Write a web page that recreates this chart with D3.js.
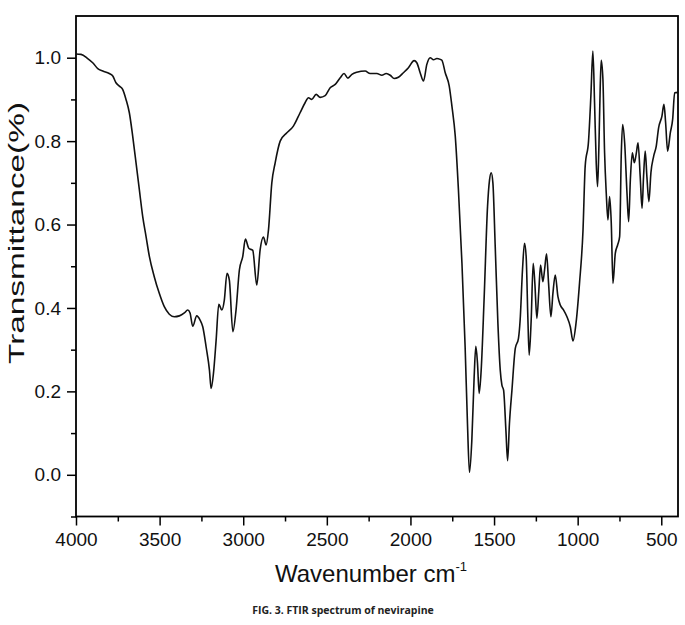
<!DOCTYPE html>
<html>
<head>
<meta charset="utf-8">
<script src="https://cdn.jsdelivr.net/npm/d3@7"></script>
<style>
  body { margin: 0; background: #fff; }
  svg { display: block; }
</style>
</head>
<body>
<div id="chart"></div>
<script>
// FTIR spectrum of nevirapine
var wavenumber = [4000,3970,3930,3900,3870,3840,3801,3780,3761,3741,3721,3701,3681,3661,3641,3621,3601,3581,3561,3532,
  3502,3472,3442,3412,3382,3352,3332,3318,3302,3278,3258,3242,3222,3202,3192,3178,3162,3146,3128,3113,
  3097,3083,3062,3043,3023,3003,2987,2967,2943,2919,2899,2879,2863,2849,2829,2809,2779,2739,2700,2660,
  2630,2610,2590,2564,2540,2510,2480,2450,2420,2397,2374,2350,2321,2271,2241,2201,2171,2145,2121,2097,
  2072,2042,2012,1978,1962,1942,1922,1902,1882,1862,1842,1822,1812,1792,1768,1752,1732,1713,1692,1673,
  1659,1647,1633,1619,1609,1599,1589,1577,1559,1539,1527,1517,1507,1493,1477,1463,1453,1443,1429,1419,
  1408,1393,1373,1354,1344,1330,1318,1308,1298,1290,1278,1266,1256,1244,1232,1222,1208,1198,1186,1174,
  1160,1148,1134,1118,1104,1084,1064,1044,1028,1010,989,968,955,935,921,909,899,889,881,873,
  865,859,849,839,829,819,809,799,789,775,761,749,739,731,719,705,695,685,673,661,
  649,639,626,615,606,596,586,574,562,546,530,516,496,484,474,462,446,432,420,400];

var transmittance = [1.009,1.008,0.998,0.988,0.974,0.968,0.962,0.956,0.940,0.932,0.924,0.900,0.868,0.812,0.748,0.683,0.619,0.571,0.523,0.475,
  0.435,0.403,0.385,0.379,0.381,0.388,0.395,0.388,0.356,0.381,0.371,0.355,0.307,0.251,0.207,0.243,0.323,0.409,0.395,0.419,
  0.483,0.467,0.343,0.395,0.491,0.523,0.565,0.543,0.538,0.455,0.539,0.570,0.551,0.587,0.700,0.748,0.800,0.820,0.836,0.868,
  0.892,0.904,0.900,0.912,0.905,0.909,0.928,0.936,0.952,0.962,0.951,0.960,0.965,0.968,0.962,0.962,0.958,0.962,0.958,0.950,
  0.953,0.964,0.976,0.993,0.988,0.964,0.944,0.984,1.000,0.995,0.998,0.996,0.994,0.964,0.932,0.884,0.812,0.683,0.507,0.307,
  0.123,0.006,0.082,0.235,0.308,0.267,0.195,0.251,0.427,0.643,0.707,0.724,0.700,0.547,0.363,0.251,0.215,0.203,0.106,0.034,
  0.123,0.203,0.303,0.327,0.371,0.491,0.555,0.523,0.379,0.287,0.371,0.507,0.459,0.375,0.443,0.503,0.463,0.491,0.530,0.459,
  0.379,0.435,0.479,0.427,0.407,0.395,0.379,0.355,0.321,0.363,0.459,0.587,0.740,0.800,0.908,1.016,0.892,0.748,0.691,0.788,
  0.932,0.994,0.948,0.772,0.675,0.611,0.667,0.603,0.459,0.531,0.551,0.571,0.772,0.840,0.796,0.675,0.607,0.707,0.772,0.748,
  0.772,0.796,0.715,0.639,0.715,0.776,0.715,0.655,0.724,0.763,0.788,0.832,0.860,0.888,0.844,0.776,0.820,0.852,0.916,0.917];

var xMajor = [4000,3500,3000,2500,2000,1500,1000,500];
var xMinor = [3750,3250,2750,2250,1750,1250,750];
var yMajor = [0.0,0.2,0.4,0.6,0.8,1.0];
var yMinor = [-0.1,0.1,0.3,0.5,0.7,0.9];

var W = 685, H = 625;
// plot frame (window.top is reserved, so prefix these)
var plotLeft = 76, plotRight = 678, plotTop = 16, plotBottom = 516.5;
var font = "'Liberation Sans', Arial, sans-serif";

var svg = d3.select("#chart").append("svg")
    .attr("width", W)
    .attr("height", H);

svg.append("rect").attr("width", W).attr("height", H).attr("fill", "#fff");

var xScale = d3.scaleLinear().domain([4000, 400]).range([plotLeft, plotRight]);
var yScale = d3.scaleLinear().domain([-0.1, 1.1]).range([plotBottom, plotTop]);

var data = wavenumber.map(function(w, i) { return {w: w, t: transmittance[i]}; });

// x axis, major + minor ticks
var xAxis = d3.axisBottom(xScale)
    .tickValues(xMajor)
    .tickSizeInner(9)
    .tickSizeOuter(0)
    .tickPadding(7)
    .tickFormat(d3.format("d"));

svg.append("g")
    .attr("transform", "translate(0," + plotBottom + ")")
    .call(xAxis);

svg.append("g")
    .attr("transform", "translate(0," + plotBottom + ")")
    .call(d3.axisBottom(xScale).tickValues(xMinor).tickSizeInner(5).tickSizeOuter(0).tickFormat(""));

// y axis
var yAxis = d3.axisLeft(yScale)
    .tickValues(yMajor)
    .tickSizeInner(9)
    .tickSizeOuter(0)
    .tickPadding(6)
    .tickFormat(d3.format(".1f"));

svg.append("g")
    .attr("transform", "translate(" + plotLeft + ",0)")
    .call(yAxis);

svg.append("g")
    .attr("transform", "translate(" + plotLeft + ",0)")
    .call(d3.axisLeft(yScale).tickValues(yMinor).tickSizeInner(5).tickSizeOuter(0).tickFormat(""));

svg.selectAll(".domain").remove();
svg.selectAll(".tick line").attr("stroke", "#000").attr("stroke-width", 1.5);
svg.selectAll(".tick text")
    .attr("fill", "#111")
    .style("font-family", font)
    .style("font-size", "19px");

// frame
svg.append("rect")
    .attr("x", plotLeft)
    .attr("y", plotTop)
    .attr("width", plotRight - plotLeft)
    .attr("height", plotBottom - plotTop)
    .attr("fill", "none")
    .attr("stroke", "#000")
    .attr("stroke-width", 1.8);

// spectrum
var line = d3.line()
    .x(function(d) { return xScale(d.w); })
    .y(function(d) { return yScale(d.t); })
    .curve(d3.curveMonotoneX);

svg.append("path")
    .datum(data)
    .attr("fill", "none")
    .attr("stroke", "#111")
    .attr("stroke-width", 1.6)
    .attr("stroke-linejoin", "round")
    .attr("d", line);

// axis titles
svg.append("text")
    .attr("transform", "translate(24,233)rotate(-90)")
    .attr("text-anchor", "middle")
    .attr("textLength", 262)
    .attr("lengthAdjust", "spacingAndGlyphs")
    .style("font-family", font)
    .style("font-size", "22px")
    .attr("fill", "#111")
    .text("Transmittance(%)");

var xt = svg.append("text")
    .attr("x", (plotLeft + plotRight) / 2 - 6)
    .attr("y", 582)
    .attr("text-anchor", "middle")
    .style("font-family", font)
    .style("font-size", "24px")
    .attr("fill", "#111");
xt.append("tspan").text("Wavenumber cm");
xt.append("tspan").attr("dy", -11).style("font-size", "13px").text("-1");

// caption
svg.append("text")
    .attr("x", 343)
    .attr("y", 614)
    .attr("text-anchor", "middle")
    .style("font-family", "'Open Sans', sans-serif")
    .style("font-weight", "bold")
    .style("font-size", "10.5px")
    .attr("fill", "#222")
    .text("FIG. 3. FTIR spectrum of nevirapine");
</script>
</body>
</html>
